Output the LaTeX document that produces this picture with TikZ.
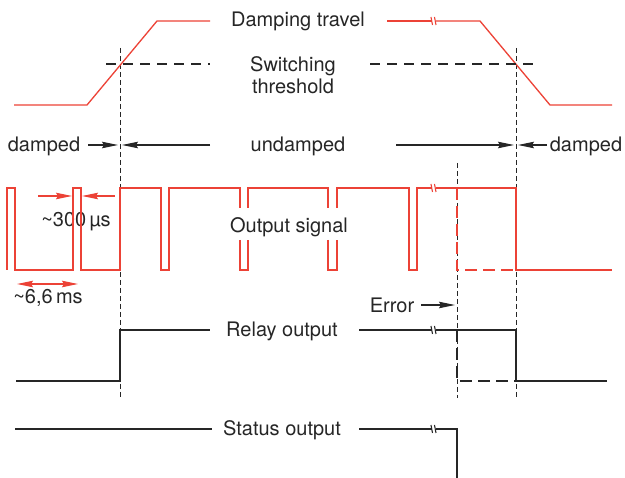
\documentclass[tikz,border=0pt]{standalone}
\usepackage{fontspec}
\setmainfont{TeX Gyre Heros}
\usetikzlibrary{arrows.meta}
\definecolor{sigred}{RGB}{236,66,54}
\definecolor{ink}{RGB}{38,38,38}
\begin{document}
\begin{tikzpicture}[x=1pt,y=-1pt,
  redl/.style={draw=sigred,line width=1.3pt},
  blk/.style={draw=ink,line width=1.3pt},
  vguide/.style={draw=ink,line width=0.7pt,dash pattern=on 5pt off 3pt},
  thresh/.style={draw=ink,line width=1.1pt,dash pattern=on 10pt off 7pt},
  errdash/.style={line width=1.3pt,dash pattern=on 12pt off 6pt},
  lbl/.style={font=\fontsize{20}{22}\selectfont,text=ink,inner sep=0pt},
  arr/.style={-{Stealth[length=16pt,width=6.5pt,inset=2pt]},line width=1.2pt},
  dblarr/.style={{Stealth[length=16pt,width=6.5pt,inset=2pt]}-{Stealth[length=16pt,width=6.5pt,inset=2pt]},line width=1.2pt},
  brk/.pic={\draw[pic actions] (-3,-4) -- (-1.5,4); \draw[pic actions] (0.5,-4) -- (2,4);}
]
\useasboundingbox (0,0) rectangle (625,478);

% labels
\node[lbl] (dt) at (298,21) {Damping travel};
\node[lbl,align=center] (st) at (293,75) {Switching\\threshold};
\node[lbl] (dl) at (44,146) {damped};
\node[lbl] (ud) at (298,146) {undamped};
\node[lbl] (dr) at (586,146) {damped};
\node[lbl] (os) at (289,227) {Output signal};
\node[lbl] (t3) at (76,222) {\textasciitilde 300\,µs};
\node[lbl] (t6) at (48,298) {\textasciitilde 6,6\,ms};
\node[lbl] (er) at (392,305) {Error};
\node[lbl] (ro) at (282,331) {Relay output};
\node[lbl] (so) at (282,430) {Status output};

% vertical guides
\coordinate (g1t) at (120,48); \coordinate (g1b) at (120,398);
\coordinate (g2t) at (516,48); \coordinate (g2b) at (516,398);
\coordinate (g3t) at (457,163); \coordinate (g3b) at (457,398);
\draw[vguide] (g1t) -- (g1b);
\draw[vguide] (g2t) -- (g2b);
\draw[vguide] (g3t) -- (g3b);

% damping travel
\draw[redl] (14,105) -- (87,105) -- (157,21) -- (210,21);
\draw[redl] (387,21) -- (431.5,21);
\draw[redl] (436,21) -- (480,21) -- (550,105) -- (612,105);
\pic[draw=sigred,line width=1.1pt] at (434,21) {brk};

% threshold
\draw[thresh] (106,64) -- (210,64);
\draw[thresh] (370,64) -- (533,64);

% damped / undamped arrows
\draw[arr,ink] (88,145) -- (118,145);
\draw[arr,ink] (210,145) -- (122,145);
\draw[arr,ink] (396,145) -- (514,145);
\draw[arr,ink] (547,145) -- (518,145);

% output signal
\draw[redl] (7,270) -- (7,188) -- (15,188) -- (15,270) -- (73,270) -- (73,188) -- (81,188) -- (81,270)
  -- (120,270) -- (120,188) -- (161,188) -- (161,270) -- (169,270) -- (169,188) -- (240,188) -- (240,208);
\draw[redl] (240,240) -- (240,270) -- (248,270) -- (248,240);
\draw[redl] (248,208) -- (248,188) -- (328,188) -- (328,208);
\draw[redl] (328,240) -- (328,270) -- (337,270) -- (337,240);
\draw[redl] (337,208) -- (337,188) -- (409,188) -- (409,270) -- (417,270) -- (417,188) -- (431.5,188);
\draw[redl] (436,188) -- (516,188) -- (516,270) -- (612,270);
\pic[draw=sigred,line width=1.1pt] at (434,188) {brk};
\draw[sigred,errdash] (457,188) -- (457,270) -- (516,270);

% timing arrows
\draw[arr,sigred] (38,196) -- (72,196);
\draw[arr,sigred] (115,196) -- (82,196);
\draw[dblarr,sigred] (17,284) -- (78,284);

% error arrow
\draw[arr,ink] (er.east) ++(7,0) -- (455,305);

% relay output
\draw[blk] (16,381) -- (120,381) -- (120,330) -- (210,330);
\draw[blk] (359,330) -- (431.5,330);
\draw[blk] (436,330) -- (516,330) -- (516,381) -- (607,381);
\pic[draw=ink,line width=1.1pt] at (434,330) {brk};
\draw[ink,errdash] (457,330) -- (457,381) -- (516,381);

% status output
\draw[blk] (15,429) -- (212,429);
\draw[blk] (359,429) -- (431.5,429);
\draw[blk] (436,429) -- (457,429) -- (457,478);
\pic[draw=ink,line width=1.1pt] at (434,429) {brk};
\end{tikzpicture}
\end{document}
